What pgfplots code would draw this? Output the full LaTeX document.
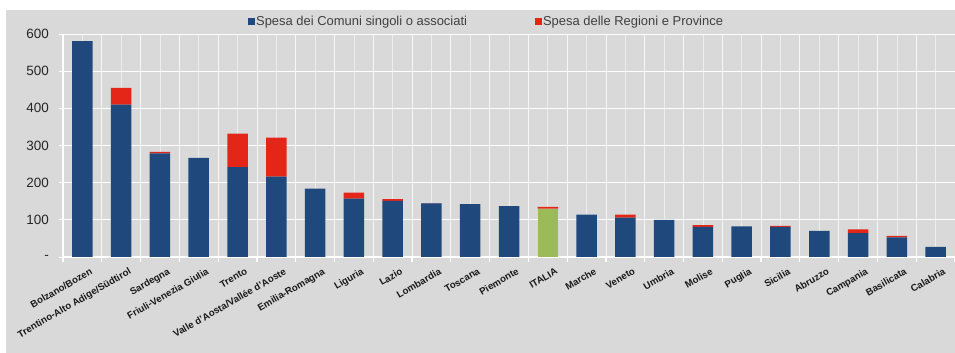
\documentclass[border=0pt]{standalone}
\usepackage{pgfplots}
\usepackage{pgfplotstable}
\pgfplotsset{compat=1.18}
\usepackage{fontspec}
\setmainfont{Liberation Sans}
\definecolor{bgc}{HTML}{D9D9D9}
\definecolor{cblue}{HTML}{1F497D}
\definecolor{cred}{HTML}{E42619}
\definecolor{cgreen}{HTML}{9BBB59}

\pgfplotstableread{
idx blue green red
0 581 0 0
1 410 0 45
2 279 0 4
3 267 0 0
4 242 0 90
5 216 0 105
6 184 0 0
7 157 0 16
8 151 0 5
9 144 0 1
10 142 0 0
11 137 0 0
12 0 130 5
13 114 0 0
14 106 0 8
15 100 0 0
16 81 0 5
17 82.5 0 0
18 81 0 3
19 70 0 0
20 64.5 0 10
21 53 0 4
22 27 0 0
}\datatable

\begin{document}
\begin{tikzpicture}
\fill[white] (0,0) rectangle (955bp,353bp);
\fill[bgc] (6bp,0) rectangle (955bp,343bp);
\begin{axis}[
  at={(63bp,96bp)}, anchor=south west, scale only axis,
  width=892bp, height=223bp,
  ybar stacked, bar width=20.5bp,
  xmin=-0.5, xmax=22.5, ymin=0, ymax=600,
  axis x line*=bottom, axis y line*=left,
  axis line style={white,-},
  x axis line style={line width=2bp},
  y axis line style={line width=1.2bp},
  xtick={0,...,22},
  xticklabels={Bolzano/Bozen,Trentino-Alto Adige/Südtirol,Sardegna,Friuli-Venezia Giulia,Trento,Valle d'Aosta/Vallée d'Aoste,Emilia-Romagna,Liguria,Lazio,Lombardia,Toscana,Piemonte,ITALIA,Marche,Veneto,Umbria,Molise,Puglia,Sicilia,Abruzzo,Campania,Basilicata,Calabria},
  minor xtick={-0.5,0.5,...,22.5},
  ytick={0,100,...,600},
  yticklabels={-,100,200,300,400,500,600},
  tick align=outside,
  major x tick style={draw=none},
  minor x tick style={white, line width=1.2bp},
  minor tick length=5bp,
  major tick length=4bp,
  y tick style={white, line width=1bp},
  xmajorgrids, xminorgrids, ymajorgrids,
  major x grid style={white, line width=0.6bp, opacity=0.55},
  minor x grid style={white, line width=0.8bp, opacity=0.8},
  major y grid style={white, line width=1bp},
  xticklabel style={rotate=30, anchor=north east, font=\fontsize{9.7}{10}\selectfont\bfseries, text=black!90, inner sep=0pt, xshift=3bp, yshift=-9bp},
  yticklabel style={font=\fontsize{13.5}{15}\selectfont, text=black!85, inner sep=0pt, xshift=-10bp},
  legend style={at={(0.2034,1.058)}, anchor=west, draw=none, fill=none,
    legend columns=2, font=\fontsize{13}{15}\selectfont, text=black!75,
    /tikz/every even column/.append style={column sep=66bp},
    nodes={inner sep=1.5bp}},
  legend image code/.code={\fill (0bp,-3.5bp) rectangle (7bp,3.5bp);},
]
\addplot[fill=cblue, draw=none] table[x=idx, y=blue] {\datatable};
\addlegendentry{Spesa dei Comuni singoli o associati}
\addplot[fill=cgreen, draw=none, forget plot] table[x=idx, y=green] {\datatable};
\addplot[fill=cred, draw=none] table[x=idx, y=red] {\datatable};
\addlegendentry{Spesa delle Regioni e Province}
\end{axis}
\pgfresetboundingbox
\useasboundingbox (0,0) rectangle (955bp,353bp);
\end{tikzpicture}
\end{document}
